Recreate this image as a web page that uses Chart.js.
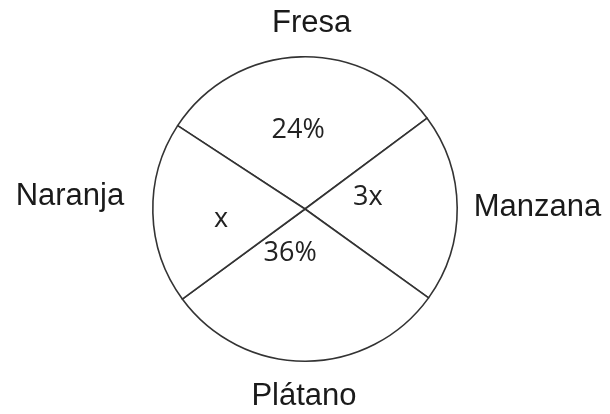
<!DOCTYPE html>
<html>
<head>
<meta charset="utf-8">
<script src="https://cdn.jsdelivr.net/npm/chart.js@4/dist/chart.umd.min.js"></script>
<style>
  html, body { margin: 0; padding: 0; background: #ffffff; }
  #wrap { width: 610px; height: 414px; }
</style>
</head>
<body>
<div id="wrap"><canvas id="c" width="610" height="414"></canvas></div>
<script>
// ---- data ----
const categories = ['Fresa', 'Manzana', 'Plátano', 'Naranja'];
// share of the circle each sector occupies in the drawing (%)
const sliceShares = [30.6, 20.1, 30.0, 19.3];
// labels written inside each sector
const sliceLabels = ['24%', '3x', '36%', 'x'];

// ---- layout / style (not data) ----
const startRotationDeg = -56.8;
const innerPlacement = [
  { shiftDeg: -3.2, rFrac: 0.52 },
  { shiftDeg: -10.5, rFrac: 0.42 },
  { shiftDeg: 19.0, rFrac: 0.305 },
  { shiftDeg: -5.5, rFrac: 0.555 }
];
const outerPlacement = [
  { shiftDeg: 3.75, gap: 33, align: 'center' },
  { shiftDeg: -0.2, gap: 16.5, align: 'left' },
  { shiftDeg: 0.6, gap: 35, align: 'center' },
  { shiftDeg: 5.4, gap: 29, align: 'right' }
];

const labelPlugin = {
  id: 'sectorLabels',
  afterDatasetsDraw(chart) {
    const ctx = chart.ctx;
    const meta = chart.getDatasetMeta(0);
    ctx.save();
    ctx.textBaseline = 'middle';
    meta.data.forEach((arc, i) => {
      const p = arc.getProps(['x', 'y', 'startAngle', 'endAngle', 'outerRadius'], true);
      const mid = (p.startAngle + p.endAngle) / 2;
      // inner label
      const ip = innerPlacement[i];
      const ia = mid + ip.shiftDeg * Math.PI / 180;
      const ir = ip.rFrac * p.outerRadius;
      ctx.font = '27px "Open Sans", "Liberation Sans", sans-serif';
      ctx.fillStyle = '#222222';
      ctx.textAlign = 'center';
      ctx.fillText(sliceLabels[i], p.x + Math.cos(ia) * ir, p.y + Math.sin(ia) * ir);
      // outer category label
      const op = outerPlacement[i];
      const oa = mid + op.shiftDeg * Math.PI / 180;
      const orad = p.outerRadius + op.gap;
      ctx.font = '31px "Liberation Sans", Arial, sans-serif';
      ctx.fillStyle = '#1a1a1a';
      ctx.textAlign = op.align;
      ctx.fillText(categories[i], p.x + Math.cos(oa) * orad, p.y + Math.sin(oa) * orad);
    });
    ctx.restore();
  }
};

new Chart(document.getElementById('c'), {
  type: 'pie',
  data: {
    labels: categories,
    datasets: [{
      data: sliceShares,
      backgroundColor: '#ffffff',
      borderColor: '#333333',
      borderWidth: 1.6,
      borderJoinStyle: 'round',
      hoverOffset: 0
    }]
  },
  options: {
    responsive: false,
    animation: false,
    rotation: startRotationDeg,
    layout: { padding: { top: 56, bottom: 52, left: 0, right: 0 } },
    events: [],
    plugins: {
      legend: { display: false },
      tooltip: { enabled: false },
      title: { display: false }
    }
  },
  plugins: [labelPlugin]
});
</script>
</body>
</html>
